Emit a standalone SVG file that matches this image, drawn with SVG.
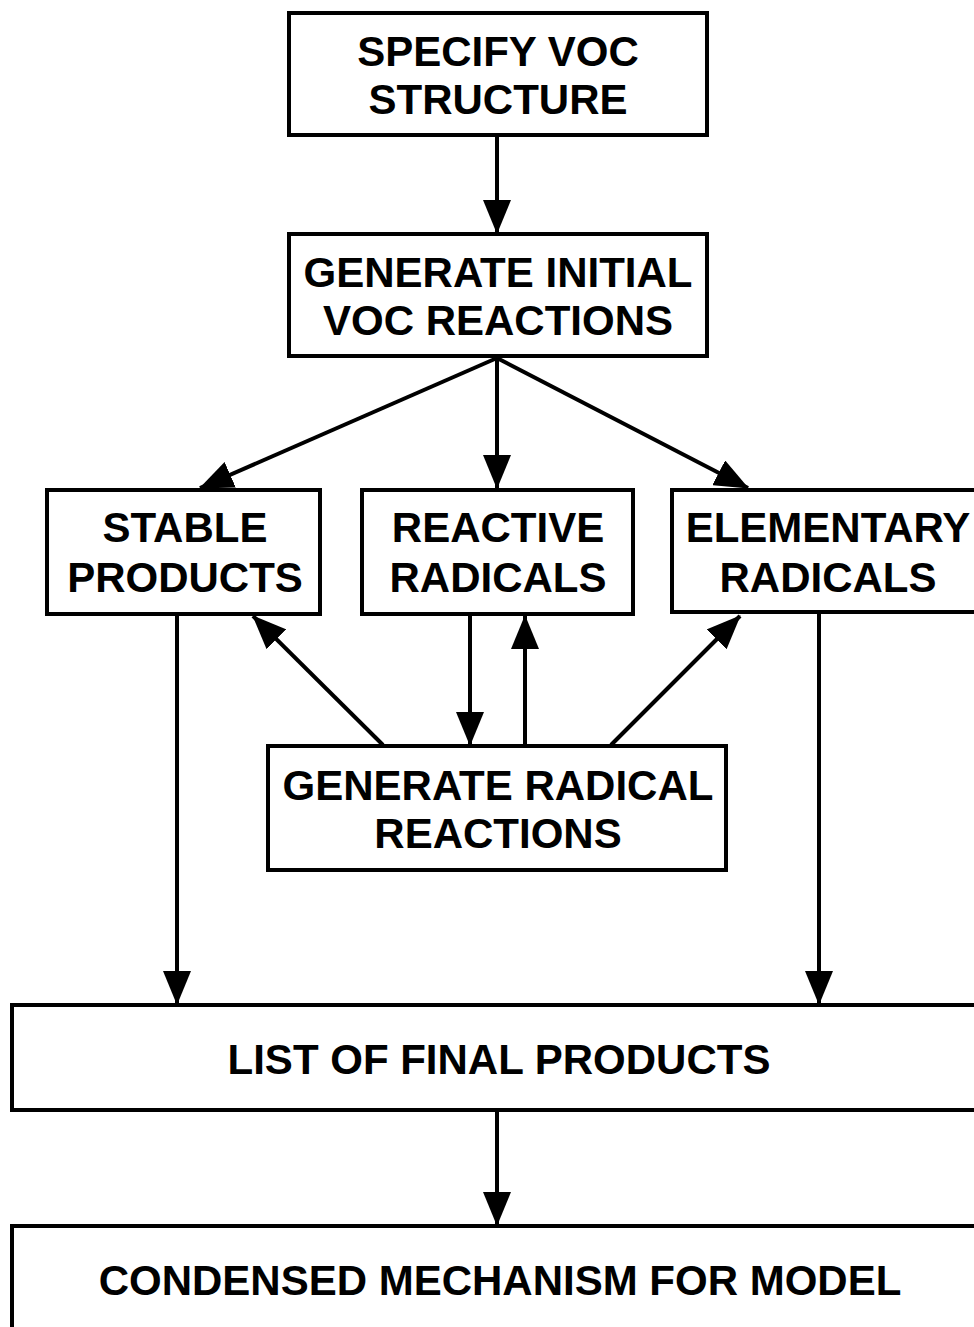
<svg xmlns="http://www.w3.org/2000/svg" width="974" height="1327" viewBox="0 0 974 1327">
  <style>
    .box { fill: #fff; stroke: #000; stroke-width: 4; }
    .lbl { font-family: "Liberation Sans", Arial, sans-serif; font-weight: bold; font-size: 42px; text-anchor: middle; fill: #000; }
    .edge { fill: none; stroke: #000; stroke-width: 4; marker-end: url(#head); }
  </style>
  <defs>
    <marker id="head" markerUnits="userSpaceOnUse" markerWidth="34" markerHeight="28" viewBox="0 0 34 28" refX="33" refY="14" orient="auto">
      <path d="M0,0 L34,14 L0,28 Z" fill="#000"/>
    </marker>
  </defs>

  <rect width="974" height="1327" fill="#fff"/>

  <g id="connectors">
    <line class="edge" x1="497" y1="137" x2="497" y2="233"/>
    <line class="edge" x1="497" y1="358" x2="200" y2="488"/>
    <line class="edge" x1="497" y1="358" x2="497" y2="488"/>
    <line class="edge" x1="497" y1="358" x2="748" y2="488"/>
    <line class="edge" x1="177" y1="616" x2="177" y2="1004"/>
    <line class="edge" x1="819" y1="614" x2="819" y2="1004"/>
    <line class="edge" x1="383" y1="745" x2="253" y2="616"/>
    <line class="edge" x1="470" y1="616" x2="470" y2="745"/>
    <line class="edge" x1="525" y1="745" x2="525" y2="616"/>
    <line class="edge" x1="611" y1="745" x2="740" y2="616"/>
    <line class="edge" x1="497" y1="1112" x2="497" y2="1225"/>
  </g>

  <g id="specify-voc">
    <rect class="box" x="289" y="13" width="418" height="122"/>
    <text class="lbl" x="498" y="66">SPECIFY VOC</text>
    <text class="lbl" x="498" y="114">STRUCTURE</text>
  </g>

  <g id="initial-reactions">
    <rect class="box" x="289" y="234" width="418" height="122"/>
    <text class="lbl" x="498" y="287">GENERATE INITIAL</text>
    <text class="lbl" x="498" y="335">VOC REACTIONS</text>
  </g>

  <g id="stable-products">
    <rect class="box" x="47" y="490" width="273" height="124"/>
    <text class="lbl" x="185" y="542">STABLE</text>
    <text class="lbl" x="185" y="592">PRODUCTS</text>
  </g>

  <g id="reactive-radicals">
    <rect class="box" x="362" y="490" width="271" height="124"/>
    <text class="lbl" x="498" y="542">REACTIVE</text>
    <text class="lbl" x="498" y="592">RADICALS</text>
  </g>

  <g id="elementary-radicals">
    <rect class="box" x="672" y="490" width="312" height="122"/>
    <text class="lbl" x="828" y="542">ELEMENTARY</text>
    <text class="lbl" x="828" y="592">RADICALS</text>
  </g>

  <g id="radical-reactions">
    <rect class="box" x="268" y="746" width="458" height="124"/>
    <text class="lbl" x="498" y="800">GENERATE RADICAL</text>
    <text class="lbl" x="498" y="848">REACTIONS</text>
  </g>

  <g id="final-products">
    <rect class="box" x="12" y="1005" width="974" height="105"/>
    <text class="lbl" x="499" y="1074">LIST OF FINAL PRODUCTS</text>
  </g>

  <g id="condensed-mechanism">
    <rect class="box" x="12" y="1226" width="974" height="130"/>
    <text class="lbl" x="500" y="1295">CONDENSED MECHANISM FOR MODEL</text>
  </g>
</svg>
